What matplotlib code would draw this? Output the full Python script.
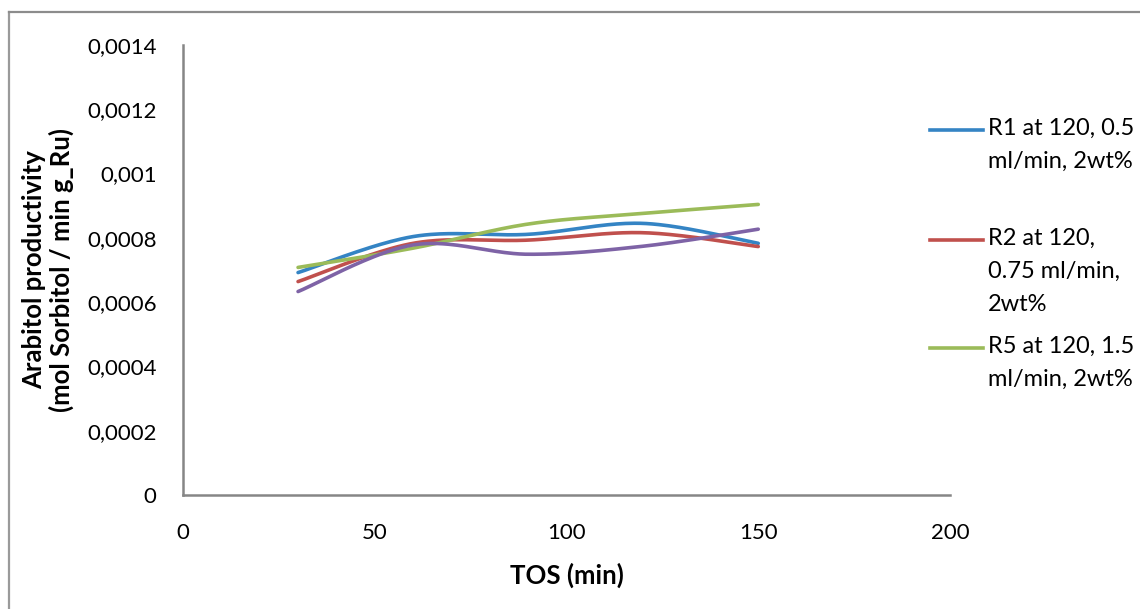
import numpy as np
import matplotlib
matplotlib.use("Agg")
import matplotlib.pyplot as plt
from matplotlib.lines import Line2D

plt.rcParams["font.family"] = ["Lato", "DejaVu Sans"]

# Time on stream (min)
tos = [30, 60, 90, 120, 150]

# Arabitol productivity per run
r1 = [0.000692, 0.000804, 0.000811, 0.000845, 0.000783]
r2 = [0.000664, 0.000783, 0.000793, 0.000816, 0.000773]
r5 = [0.000708, 0.000768, 0.000843, 0.000876, 0.000904]
r_extra = [0.000633, 0.000778, 0.000749, 0.000774, 0.000827]

series_labels = ["R1 at 120, 0.5\nml/min, 2wt%",
                 "R2 at 120,\n0.75 ml/min,\n2wt%",
                 "R5 at 120, 1.5\nml/min, 2wt%"]

x_ticks = [0, 50, 100, 150, 200]
y_ticks = [0, 0.0002, 0.0004, 0.0006, 0.0008, 0.001, 0.0012, 0.0014]
y_tick_labels = ["0", "0,0002", "0,0004", "0,0006", "0,0008", "0,001", "0,0012", "0,0014"]

colors = ["#3484C4", "#C0504D", "#9BBB59", "#7E63A6"]


def smooth(xs, ys, n=40):
    """Cubic Bezier smoothing through the points (spreadsheet-style)."""
    p = np.column_stack([xs, ys]).astype(float)
    ext = np.vstack([p[0], p, p[-1]])
    out = []
    t = np.linspace(0, 1, n)[:, None]
    for i in range(len(p) - 1):
        p0, p1 = ext[i + 1], ext[i + 2]
        c1 = p0 + (ext[i + 2] - ext[i]) / 6.0
        c2 = p1 - (ext[i + 3] - ext[i + 1]) / 6.0
        seg = ((1 - t) ** 3) * p0 + 3 * ((1 - t) ** 2) * t * c1 + 3 * (1 - t) * t ** 2 * c2 + t ** 3 * p1
        out.append(seg if i == 0 else seg[1:])
    s = np.vstack(out)
    return s[:, 0], s[:, 1]


fig = plt.figure(figsize=(11.4, 6.09), dpi=100)
ax = fig.add_axes([183 / 1140, 1 - 495 / 609, (950 - 183) / 1140, (495 - 45) / 609])

all_series = [r1, r2, r5, r_extra]
for ys, c in zip(all_series, colors):
    sx, sy = smooth(tos, ys)
    ax.plot(sx, sy, color=c, lw=2.6, solid_capstyle="round")

ax.set_xlim(0, 200)
ax.set_ylim(0, 0.0014)
ax.set_xticks(x_ticks)
ax.set_xticklabels([str(v) for v in x_ticks])
ax.set_yticks(y_ticks)
ax.set_yticklabels(y_tick_labels)
ax.tick_params(axis="both", length=0, labelsize=16, colors="black")
ax.tick_params(axis="y", pad=19)
ax.tick_params(axis="x", pad=20)
for side in ("top", "right"):
    ax.spines[side].set_visible(False)
for side in ("left", "bottom"):
    ax.spines[side].set_color("#868686")
    ax.spines[side].set_linewidth(1.8)

ax.set_xlabel("TOS (min)", fontsize=18.5, fontweight="bold", labelpad=14)
fig.text(48 / 1140, 1 - 270 / 609,
         "Arabitol productivity\n(mol Sorbitol / min g_Ru)",
         rotation=90, ha="center", va="center", fontsize=18.5,
         fontweight="bold", linespacing=1.12)

# Legend entries (first three runs), handle aligned with first text line
legend_y = [130, 240, 348]
for lab, c, yp in zip(series_labels, colors[:3], legend_y):
    fy = 1 - yp / 609
    fig.add_artist(Line2D([930 / 1140, 983 / 1140], [fy, fy], color=c, lw=2.6,
                          transform=fig.transFigure))
    fig.text(988 / 1140, 1 - (yp - 12) / 609, lab, ha="left", va="top",
             fontsize=17, linespacing=1.7)

# Chart area frame
fig.add_artist(Line2D([8.5 / 1140, 8.5 / 1140], [0, 1 - 12 / 609], color="#9A9A9A", lw=1.6,
                      transform=fig.transFigure))
fig.add_artist(Line2D([8.5 / 1140, 1], [1 - 12 / 609, 1 - 12 / 609], color="#8C8C8C", lw=1.6,
                      transform=fig.transFigure))

fig.savefig("out.png", dpi=100, facecolor="white")
